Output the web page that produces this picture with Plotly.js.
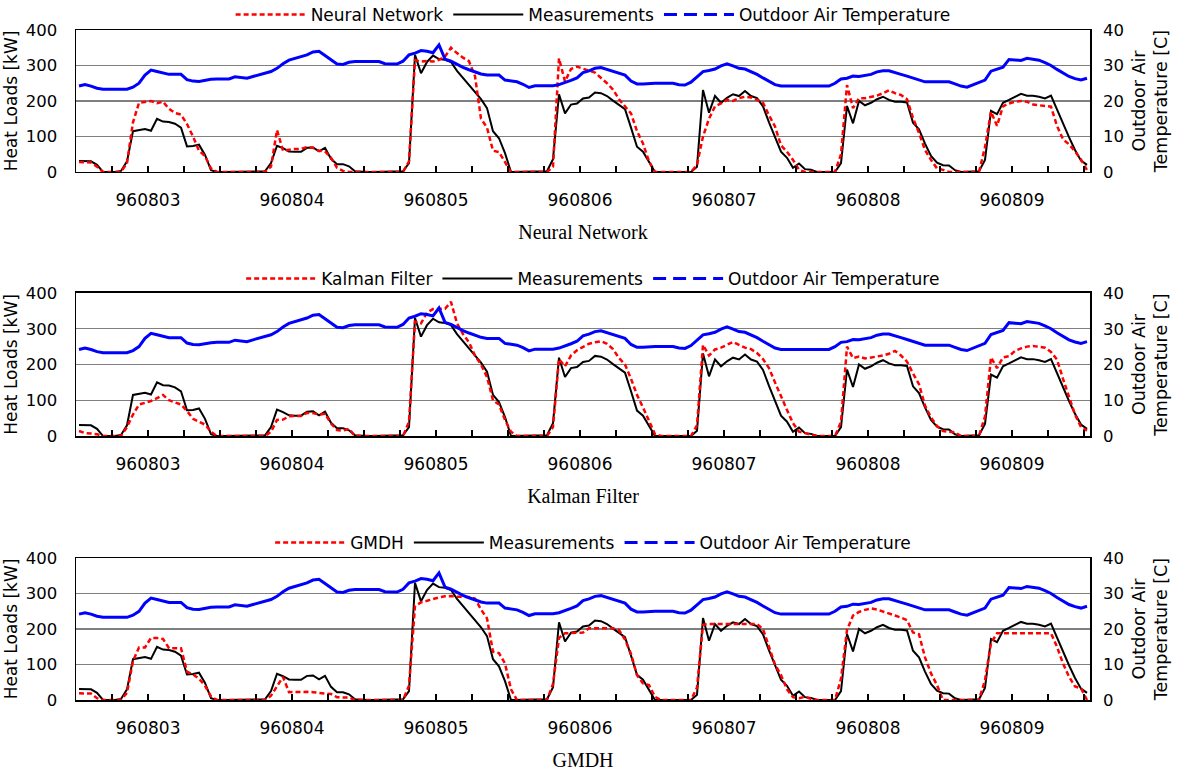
<!DOCTYPE html>
<html>
<head>
<meta charset="utf-8">
<script src="https://cdn.plot.ly/plotly-3.0.1.min.js"></script>
<style>html,body{margin:0;padding:0;background:#fff;}</style>
</head>
<body>
<div id="chart" style="width:1181px;height:780px;"></div>
<script>
// ---- data (hourly, 960803 00h .. 960810 00h) ----
const dayLabels = ['960803','960804','960805','960806','960807','960808','960809'];

const measurements = [
  31,31,30,20,0,0,0,3,30,115,117,121,116,150,142,141,136,125,72,73,77,48,5,0,
  0,0,0,0,0,0,0,2,25,74,67,58,57,57,68,69,58,68,37,22,22,16,2,0,
  0,0,0,0,0,0,2,25,330,278,310,328,318,316,310,285,265,245,228,205,180,115,95,53,
  0,0,0,0,0,0,2,36,219,165,190,193,207,210,224,222,214,201,188,177,125,71,57,30,
  0,0,0,0,0,0,0,15,231,167,214,195,209,219,214,228,214,208,185,140,100,57,40,12,
  24,8,6,0,0,0,0,25,186,137,200,188,195,205,212,203,198,198,196,139,120,80,45,26,
  19,18,5,0,0,0,2,34,172,163,195,203,212,220,215,215,212,207,215,175,140,98,62,32,20
];

const outdoorTemp = [
  24.2,24.6,24.2,23.6,23.3,23.3,23.3,23.3,23.3,23.9,25.0,27.3,28.7,28.3,27.8,27.5,27.5,27.5,26.0,25.6,25.5,25.9,26.1,26.2,
  26.2,26.2,26.8,26.7,26.4,26.9,27.3,27.7,28.3,29.2,30.5,31.5,32.0,32.3,33.0,33.8,34.0,32.8,31.5,30.4,30.3,30.9,31.1,31.1,
  31.1,31.1,31.1,30.5,30.4,30.4,31.2,33.0,33.5,34.2,34.0,33.6,35.8,31.8,31.2,30.3,29.5,28.8,28.2,27.6,27.3,27.3,27.3,25.9,
  25.6,25.4,24.7,23.8,24.3,24.3,24.3,24.3,24.6,25.1,25.8,26.5,28.0,28.5,29.2,29.4,28.9,28.3,27.8,27.3,25.6,24.8,24.8,25.0,
  25.0,25.0,25.0,25.0,24.6,24.5,25.3,26.8,28.3,28.6,29.0,29.9,30.5,29.9,29.2,29.0,28.3,27.5,26.5,25.6,24.6,24.2,24.2,24.2,
  24.2,24.2,24.2,24.2,24.2,24.2,25.0,26.2,26.4,27.0,26.9,27.2,27.5,28.2,28.5,28.5,28.1,27.5,27.0,26.4,25.8,25.4,25.4,25.4,
  25.4,25.4,24.8,24.2,23.9,24.6,25.2,25.9,28.4,28.9,29.5,31.7,31.6,31.4,32.0,31.8,31.5,30.8,30.0,28.9,27.8,26.9,26.3,25.9,26.4
];

const neuralNetwork = [
  28,28,27,15,0,0,0,0,25,140,195,198,200,194,198,178,166,162,135,100,60,45,10,0,
  0,0,0,0,0,0,0,0,15,118,60,63,65,65,70,68,60,58,40,12,3,0,0,0,
  0,0,0,0,0,0,0,30,315,311,313,311,316,325,350,335,322,312,270,150,125,60,56,28,
  0,0,0,0,0,0,0,15,320,255,290,297,290,285,280,265,250,232,205,185,165,115,80,30,
  0,0,0,0,0,0,0,20,100,150,185,193,203,200,208,212,210,203,195,160,128,75,57,34,
  6,0,0,0,0,0,0,50,245,180,208,208,212,215,222,230,222,217,205,152,110,62,34,10,
  6,0,0,0,0,0,0,70,170,130,185,193,198,200,198,190,187,186,184,130,92,78,58,35,5
];

const kalmanFilter = [
  14,8,7,5,0,0,0,0,25,60,88,92,98,106,115,100,95,88,70,48,40,32,12,0,
  0,0,0,0,0,0,0,0,12,45,46,55,56,56,65,64,60,62,35,17,15,20,0,0,
  0,0,0,0,0,0,0,40,320,315,345,355,355,356,375,315,285,262,225,200,165,100,88,45,
  12,0,0,0,0,0,0,25,215,195,225,240,250,258,262,265,258,243,218,200,160,115,80,40,
  5,0,0,0,0,0,0,30,255,225,242,247,255,263,255,247,243,232,215,190,150,110,73,36,
  12,8,3,0,0,0,0,40,250,218,222,217,219,221,225,230,238,225,208,175,145,85,52,28,
  14,12,10,0,0,0,0,55,220,190,220,223,238,245,250,252,250,247,235,214,160,110,60,25,15
];

const gmdh = [
  19,19,18,5,0,0,0,0,20,110,148,148,175,175,172,146,146,146,80,72,60,40,10,0,
  0,0,0,0,0,0,0,0,12,40,65,22,23,24,23,22,19,18,17,8,7,7,0,0,
  0,0,0,0,0,0,0,40,265,275,280,286,289,292,293,291,291,290,286,255,230,136,132,103,
  30,0,0,0,0,0,0,45,175,188,188,188,190,202,202,202,202,202,197,170,130,70,47,42,
  9,0,0,0,0,0,0,35,212,214,214,214,214,214,214,214,214,214,200,150,100,70,30,8,
  5,9,3,0,0,0,0,60,197,238,248,254,258,255,250,244,238,232,225,190,185,120,75,42,
  0,0,0,0,0,0,0,56,160,188,188,188,188,188,188,188,188,188,188,150,103,66,38,33,0
];

// ---- build ----
const hours = measurements.map((_, i) => i + 0.5);
// tick marks every 6 hours; a day label sits on the noon tick of each day
const tickHours = [];
const tickText = [];
for (let h = 0; h <= 168; h += 6) {
  tickHours.push(h);
  tickText.push((h - 12) % 24 === 0 ? dayLabels[(h - 12) / 24] : '');
}

const FONT = 'DejaVu Sans';
const panels = [
  {title:'Neural Network', pred:neuralNetwork, x:'x',  yl:'y',  yr:'y2', lg:'legend'},
  {title:'Kalman Filter',  pred:kalmanFilter,  x:'x2', yl:'y3', yr:'y4', lg:'legend2'},
  {title:'GMDH',           pred:gmdh,          x:'x3', yl:'y5', yr:'y6', lg:'legend3'}
];

const traces = [];
panels.forEach(p => {
  traces.push({type:'scatter', mode:'lines', name:'Measurements', x:hours, y:measurements,
    xaxis:p.x, yaxis:p.yl, legend:p.lg, legendrank:2,
    line:{color:'#000000', width:2}});
  traces.push({type:'scatter', mode:'lines', name:p.title, x:hours, y:p.pred,
    xaxis:p.x, yaxis:p.yl, legend:p.lg, legendrank:1,
    line:{color:'#FF0000', width:2.5, dash:'5px,3px'}});
  traces.push({type:'scatter', mode:'lines', name:'Outdoor Air Temperature', x:hours, y:outdoorTemp,
    xaxis:p.x, yaxis:p.yr, legend:p.lg, showlegend:false,
    line:{color:'#0000FF', width:3}});
  traces.push({type:'scatter', mode:'lines', name:'Outdoor Air Temperature', x:[null], y:[null],
    xaxis:p.x, yaxis:p.yr, legend:p.lg, legendrank:3, hoverinfo:'skip',
    line:{color:'#0000FF', width:3, dash:'13px,7px'}});
});

const domains = [[0.7881,1],[0.394,0.6075],[0,0.2119]];
const legendY = [1.0224, 0.6284, 0.2343];

const layout = {
  width:1181, height:780,
  margin:{l:76, r:91, t:30, b:80, autoexpand:false},
  paper_bgcolor:'#ffffff', plot_bgcolor:'#ffffff',
  font:{family:FONT, size:16, color:'#000'},
  showlegend:true
};

panels.forEach((p, k) => {
  const xn = k === 0 ? 'xaxis' : 'xaxis' + (k + 1);
  const yln = 'yaxis' + (k === 0 ? '' : (2 * k + 1));
  const yrn = 'yaxis' + (2 * k + 2);
  layout[xn] = {
    domain:[0,1], anchor:p.yl, range:[0,169], fixedrange:true,
    showline:true, mirror:true, linecolor:'#000', linewidth:1.5,
    showgrid:false, zeroline:false,
    tickmode:'array', tickvals:tickHours, ticktext:tickText,
    ticks:'inside', ticklen:6, tickwidth:1.3, tickcolor:'#000',
    ticklabelstandoff:12,
    tickfont:{family:FONT, size:17, color:'#000'},
    title:{text:p.title, font:{family:'Liberation Serif', size:20, color:'#000'}, standoff:16}
  };
  layout[yln] = {
    domain:domains[k], anchor:p.x, range:[0,400], dtick:100, fixedrange:true,
    showline:true, mirror:true, linecolor:'#000', linewidth:1.5,
    showgrid:true, gridcolor:'#7f7f7f', gridwidth:1.3, zeroline:false, ticks:'',
    ticklabelstandoff:14,
    tickfont:{family:FONT, size:16.5, color:'#000'},
    title:{text:'Heat Loads [kW]', font:{family:FONT, size:17, color:'#000'}, standoff:3}
  };
  layout[yrn] = {
    overlaying:p.yl, side:'right', anchor:p.x, range:[0,40], dtick:10, fixedrange:true,
    showgrid:false, zeroline:false, showline:false, ticks:'',
    ticklabelstandoff:12,
    tickfont:{family:FONT, size:16.5, color:'#000'},
    title:{text:'Outdoor Air<br>Temperature [C]', font:{family:FONT, size:17.5, color:'#000'}, standoff:9}
  };
  layout[p.lg] = {
    orientation:'h', x:0.51, xanchor:'center', y:legendY[k], yanchor:'middle',
    font:{family:FONT, size:17, color:'#000'}, bgcolor:'rgba(255,255,255,0)',
    itemwidth:70, traceorder:'normal'
  };
});

Plotly.newPlot('chart', traces, layout, {displayModeBar:false, staticPlot:true});
</script>
</body>
</html>
